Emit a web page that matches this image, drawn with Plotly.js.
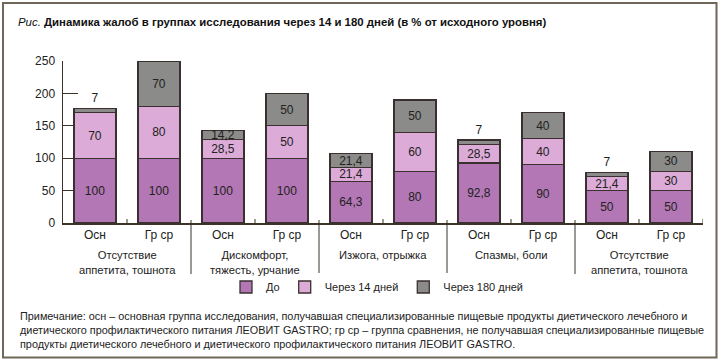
<!DOCTYPE html>
<html>
<head>
<meta charset="utf-8">
<script src="https://cdn.plot.ly/plotly-3.0.1.min.js"></script>
<style>
html,body{margin:0;padding:0;background:#fff;}
#chart{width:720px;height:361px;}
</style>
</head>
<body>
<div id="chart"></div>
<script>
// ---- data ----
const categories = ['Осн','Гр ср','Осн','Гр ср','Осн','Гр ср','Осн','Гр ср','Осн','Гр ср'];
const groupLabels = ['Отсутствие<br>аппетита, тошнота','Дискомфорт,<br>тяжесть, урчание','Изжога, отрыжка','Спазмы, боли','Отсутствие<br>аппетита, тошнота'];
const seriesNames = ['До','Через 14 дней','Через 180 дней'];
const before   = [100, 100, 100, 100, 64.3, 80, 92.8, 90, 50, 50];
const after14  = [70, 80, 28.5, 50, 21.4, 60, 28.5, 40, 21.4, 30];
const after180 = [7, 70, 14.2, 50, 21.4, 50, 7, 40, 7, 30];
const yTicks = [0, 50, 100, 150, 200, 250];
const titleText = '<i>Рис.</i> <b>Динамика жалоб в группах исследования через 14 и 180 дней (в % от исходного уровня)</b>';
const noteText = 'Примечание: осн – основная группа исследования, получавшая специализированные пищевые продукты диетического лечебного и<br>' +
  'диетического профилактического питания ЛЕОВИТ GASTRO; гр ср – группа сравнения, не получавшая специализированные пищевые<br>' +
  'продукты диетического лечебного и диетического профилактического питания ЛЕОВИТ GASTRO.';

// ---- styles ----
const colors = ['#b277b4', '#dcabd8', '#8b8b89'];
const outline = '#3b3030';
const axisColor = '#3b3328';
const FONT = 'Liberation Sans, Arial, Helvetica, sans-serif';

const xs = categories.map((c, i) => i);
const fmt = v => String(v).replace('.', ',');

function barTrace(vals, name, color, positions) {
  return {
    type: 'bar', x: xs, y: vals, name: name,
    marker: {color: color, line: {color: outline, width: 1.3}},
    width: 0.66,
    text: vals.map(fmt),
    textposition: positions,
    insidetextanchor: 'middle',
    constraintext: 'none',
    textangle: 0,
    cliponaxis: false,
    textfont: {family: FONT, size: 12, color: '#222'},
    insidetextfont: {family: FONT, size: 12, color: '#222'},
    outsidetextfont: {family: FONT, size: 12, color: '#222'},
    hoverinfo: 'skip'
  };
}

const topPositions = after180.map(v => v < 10 ? 'outside' : 'inside');
const traces = [
  barTrace(before, seriesNames[0], colors[0], 'inside'),
  barTrace(after14, seriesNames[1], colors[1], 'inside'),
  barTrace(after180, seriesNames[2], colors[2], topPositions)
];

// plot geometry
const plotH = 161.7;
const px = p => p / plotH; // pixels -> paper (y)

const shapes = [];
for (let g = 0; g < groupLabels.length; g++) {
  const mid = g * 2 + 0.5;
  shapes.push({type: 'line', xref: 'x', yref: 'paper', x0: mid, x1: mid, y0: 0, y1: px(4),
    line: {color: axisColor, width: 1}});
  if (g < groupLabels.length - 1) {
    const sep = g * 2 + 1.5;
    shapes.push({type: 'line', xref: 'x', yref: 'paper', x0: sep, x1: sep, y0: px(3), y1: -px(51),
      line: {color: axisColor, width: 1}});
  }
}
shapes.push({type: 'line', xref: 'x', yref: 'paper', x0: 9.5, x1: 9.5, y0: 0, y1: px(4),
  line: {color: axisColor, width: 1}});
// outer frame
shapes.push({type: 'rect', xref: 'paper', yref: 'paper',
  x0: (3 - 63) / 640, x1: (716.5 - 63) / 640, y0: -(357 - 222.7) / plotH, y1: (222.7 - 3) / plotH,
  line: {color: '#6f6759', width: 2}, fillcolor: 'rgba(0,0,0,0)'});

const annotations = groupLabels.map((g, i) => ({
  text: g, xref: 'x', yref: 'paper', x: i * 2 + 0.5, y: 0, yanchor: 'top', xanchor: 'center',
  yshift: -24, showarrow: false, align: 'center',
  font: {family: FONT, size: 11.2, color: '#222'}
}));
annotations.push({
  text: noteText, xref: 'paper', yref: 'paper', x: (18 - 63) / 640, y: -(308 - 222.7) / plotH,
  xanchor: 'left', yanchor: 'top', align: 'left', showarrow: false,
  font: {family: FONT, size: 10.85, color: '#222'}
});

const layout = {
  width: 720, height: 361,
  margin: {l: 63, r: 17, t: 61, b: 138.3},
  paper_bgcolor: '#fff', plot_bgcolor: '#fff',
  barmode: 'stack',
  showlegend: true,
  title: {text: titleText, x: 18 / 720, xanchor: 'left', xref: 'container',
    y: 1 - 22 / 361, yanchor: 'middle', yref: 'container',
    font: {family: FONT, size: 11.4, color: '#111'}},
  xaxis: {
    range: [-0.5, 9.5], tickvals: xs, ticktext: categories, ticks: '',
    showline: true, linecolor: axisColor, linewidth: 1.5, showgrid: false, zeroline: false,
    tickfont: {family: FONT, size: 12, color: '#222'}, ticklabelstandoff: 0,
    fixedrange: true
  },
  yaxis: {
    range: [0, 250], tickvals: yTicks, ticks: 'inside', ticklen: 15, tickwidth: 1, tickcolor: axisColor,
    showline: true, linecolor: axisColor, linewidth: 1.5, showgrid: false, zeroline: false,
    layer: 'below traces',
    tickfont: {family: FONT, size: 12, color: '#222'}, ticklabelstandoff: 4,
    fixedrange: true
  },
  legend: {
    orientation: 'h', x: 226 / 720, xanchor: 'left', xref: 'container',
    y: 1 - 287 / 361, yanchor: 'middle', yref: 'container',
    font: {family: FONT, size: 11, color: '#222'},
    itemclick: false, itemdoubleclick: false, traceorder: 'normal'
  },
  shapes: shapes,
  annotations: annotations,
  uniformtext: {mode: false}
};

Plotly.newPlot('chart', traces, layout, {displayModeBar: false, staticPlot: true});
</script>
</body>
</html>
